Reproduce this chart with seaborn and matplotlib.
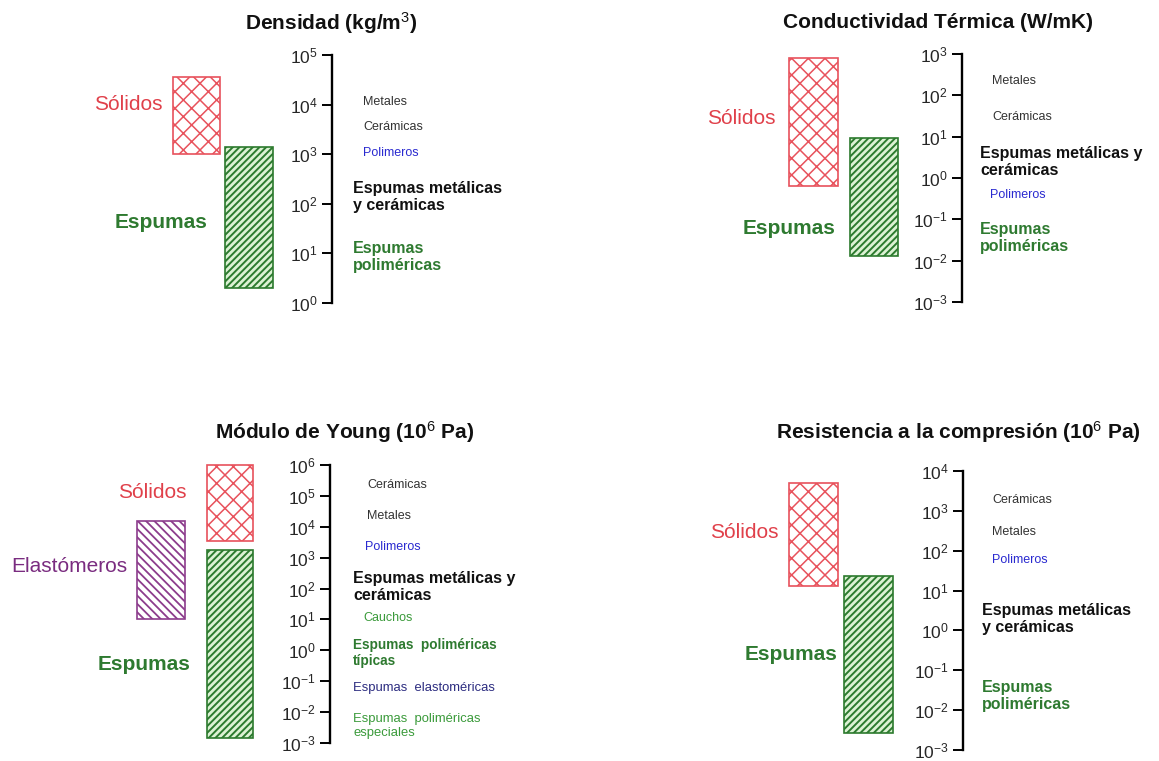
import matplotlib
matplotlib.use("Agg")
import matplotlib.pyplot as plt
import seaborn as sns
import numpy as np

# ---------------- data ----------------
# Densidad (kg/m3)
dens_groups = ["Sólidos", "Espumas"]
dens_low = [1000, 2]
dens_high = [36000, 1400]
dens_range = (0, 5)

# Conductividad térmica (W/mK)
cond_groups = ["Sólidos", "Espumas"]
cond_low = [0.65, 0.013]
cond_high = [800, 9.5]
cond_range = (-3, 3)

# Módulo de Young (10^6 Pa)
young_groups = ["Sólidos", "Elastómeros", "Espumas"]
young_low = [3500, 10, 0.0015]
young_high = [1.0e6, 15000, 1800]
young_range = (-3, 6)

# Resistencia a la compresión (10^6 Pa)
comp_groups = ["Sólidos", "Espumas"]
comp_low = [13, 0.0027]
comp_high = [5000, 23]
comp_range = (-3, 4)

titles = [
    "Densidad (kg/m$^{3}$)",
    "Conductividad Térmica (W/mK)",
    "Módulo de Young (10$^{6}$ Pa)",
    "Resistencia a la compresión (10$^{6}$ Pa)",
]

# ---------------- style ----------------
sns.set_theme(style="white")
plt.rcParams["font.family"] = ["Liberation Sans", "DejaVu Sans"]
plt.rcParams["mathtext.fontset"] = "custom"
plt.rcParams["mathtext.rm"] = "Liberation Sans"
plt.rcParams["mathtext.it"] = "Liberation Sans:italic"
plt.rcParams["mathtext.bf"] = "Liberation Sans:bold"
plt.rcParams["axes.unicode_minus"] = False

RED = "#e0404a"
RED_BAR = "#e8525c"
GREEN = "#2e7a30"
GREEN_BAR = "#2c7a2e"
GREEN_FILL = "#dcf2d4"
PURPLE = "#7a2c80"
PURPLE_BAR = "#8c3c8c"
BLUE = "#2a2ad0"
NAVY = "#2c2c80"
GREY = "#333333"
LIGHT_GREEN = "#3a9a3a"

group_style = {
    "Sólidos": dict(edge=RED_BAR, face="white", hatch="xx", hlw=1.1,
                    text=RED, weight="normal"),
    "Espumas": dict(edge=GREEN_BAR, face=GREEN_FILL, hatch="/////", hlw=1.4,
                    text=GREEN, weight="bold"),
    "Elastómeros": dict(edge=PURPLE_BAR, face="white", hatch="\\\\\\\\", hlw=1.3,
                        text=PURPLE, weight="normal"),
}

W, H = 1159, 761
fig = plt.figure(figsize=(W / 100, H / 100), dpi=100)
fig.patch.set_facecolor("white")


def fx(x):
    return x / W


def fy(y):
    return 1 - y / H


# panel layout in pixels: horizontal span, axis top/bottom, spine x,
# bar x-extents, group-label anchors, title anchor
panels = [
    dict(groups=dens_groups, low=dens_low, high=dens_high, rng=dens_range,
         span=(0, 580), top=55, bottom=303, spine=332,
         bars={"Sólidos": (173, 220), "Espumas": (225, 273)},
         glabels={"Sólidos": (163, 104), "Espumas": (208, 222)},
         title_at=(331, 23)),
    dict(groups=cond_groups, low=cond_low, high=cond_high, rng=cond_range,
         span=(580, 1159), top=54, bottom=302, spine=962,
         bars={"Sólidos": (789, 838), "Espumas": (850, 898)},
         glabels={"Sólidos": (776, 119), "Espumas": (836, 229)},
         title_at=(938, 22)),
    dict(groups=young_groups, low=young_low, high=young_high, rng=young_range,
         span=(0, 580), top=465, bottom=743, spine=330,
         bars={"Sólidos": (207, 253), "Elastómeros": (137, 185), "Espumas": (207, 253)},
         glabels={"Sólidos": (187, 493), "Elastómeros": (127, 567), "Espumas": (191, 665)},
         title_at=(345, 432)),
    dict(groups=comp_groups, low=comp_low, high=comp_high, rng=comp_range,
         span=(580, 1159), top=471, bottom=750, spine=963,
         bars={"Sólidos": (789, 838), "Espumas": (844, 893)},
         glabels={"Sólidos": (779, 533), "Espumas": (837, 655)},
         title_at=(958, 432)),
]

for p, title in zip(panels, titles):
    L, R = p["span"]
    ax = fig.add_axes([fx(L), fy(p["bottom"]), (R - L) / W, (p["bottom"] - p["top"]) / H])
    ax.patch.set_visible(False)
    ax.set_yscale("log")
    lo, hi = p["rng"]
    ax.set_ylim(10.0 ** lo, 10.0 ** hi)
    ax.set_xlim(L, R)
    ax.set_yticks([10.0 ** k for k in range(lo, hi + 1)])
    ax.yaxis.set_minor_locator(matplotlib.ticker.NullLocator())
    ax.set_xticks([])
    for side in ("top", "right", "bottom"):
        ax.spines[side].set_visible(False)
    ax.spines["left"].set_position(("data", p["spine"]))
    ax.spines["left"].set_linewidth(1.7)
    ax.spines["left"].set_color("black")
    ax.tick_params(axis="y", which="major", direction="out", length=7.5, width=1.4,
                   color="black", labelsize=12.5, pad=3, left=True)
    ax.grid(False)

    for g, lo_v, hi_v in zip(p["groups"], p["low"], p["high"]):
        st = group_style[g]
        x0, x1 = p["bars"][g]
        with plt.rc_context({"hatch.linewidth": st["hlw"]}):
            bars = ax.bar((x0 + x1) / 2, hi_v - lo_v, bottom=lo_v, width=x1 - x0,
                          facecolor=st["face"], edgecolor=st["edge"], hatch=st["hatch"],
                          linewidth=1.2, clip_on=False)
        for b in bars:
            if hasattr(b, "set_hatch_linewidth"):
                b.set_hatch_linewidth(st["hlw"])
        gx, gy = p["glabels"][g]
        fig.text(fx(gx), fy(gy), g, color=st["text"], fontsize=15,
                 fontweight=st["weight"], ha="right", va="center")

    tx, ty = p["title_at"]
    fig.text(fx(tx), fy(ty), title, fontsize=15, fontweight="bold",
             ha="center", va="center", color="#111111")


def note(x, y, s, color=GREY, size=9, weight="normal", ls=1.1):
    fig.text(fx(x), fy(y), s, color=color, fontsize=size, fontweight=weight,
             ha="left", va="center", linespacing=ls)


# Densidad
note(363, 102, "Metales")
note(363, 127, "Cerámicas")
note(363, 153, "Polimeros", color=BLUE)
note(353, 197, "Espumas metálicas\ny cerámicas", color="#111111", size=11.5, weight="bold")
note(353, 257, "Espumas\npoliméricas", color=GREEN, size=11.5, weight="bold")

# Conductividad
note(992, 81, "Metales")
note(992, 117, "Cerámicas")
note(980, 162, "Espumas metálicas y\ncerámicas", color="#111111", size=11.5, weight="bold")
note(990, 195, "Polimeros", color=BLUE)
note(980, 238, "Espumas\npoliméricas", color=GREEN, size=11.5, weight="bold")

# Young
note(367, 485, "Cerámicas")
note(367, 516, "Metales")
note(365, 547, "Polimeros", color=BLUE)
note(353, 587, "Espumas metálicas y\ncerámicas", color="#111111", size=11.5, weight="bold")
note(363, 618, "Cauchos", color=LIGHT_GREEN)
note(353, 653, "Espumas  poliméricas\ntípicas", color=GREEN, size=9.8, weight="bold", ls=1.15)
note(353, 688, "Espumas  elastoméricas", color=NAVY, size=9.4)
note(353, 726, "Espumas  poliméricas\nespeciales", color=LIGHT_GREEN, size=9.4, ls=1.2)

# Compresión
note(992, 500, "Cerámicas")
note(992, 532, "Metales")
note(992, 560, "Polimeros", color=BLUE)
note(982, 619, "Espumas metálicas\ny cerámicas", color="#111111", size=11.5, weight="bold")
note(982, 696, "Espumas\npoliméricas", color=GREEN, size=11.5, weight="bold")

fig.savefig("out.png", dpi=100, facecolor="white")
